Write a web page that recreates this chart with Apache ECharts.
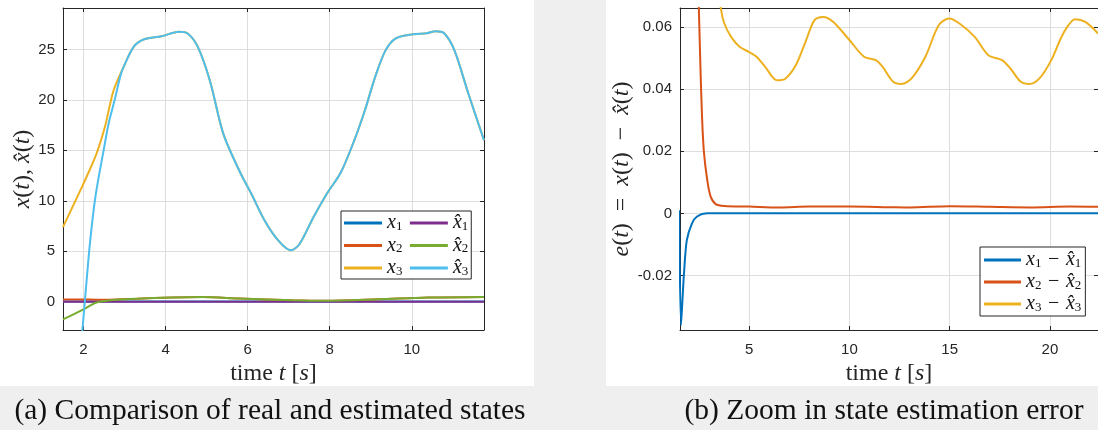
<!DOCTYPE html>
<html>
<head>
<meta charset="utf-8">
<title>state estimation</title>
<script src="https://cdn.jsdelivr.net/npm/echarts@6/dist/echarts.min.js"></script>
<style>
  html, body { margin: 0; padding: 0; background: #fff; }
  #main { width: 1098px; height: 430px; }
</style>
</head>
<body>
<div id="main"></div>
<script>
// (a) real and estimated states, time in s
var tX1 = [1.5, 11.76];
var valX1 = [0.03, 0.03];
var tXh1 = [1.5, 11.76];
var valXh1 = [0, 0];
var tX2 = [1.5, 2.0, 2.3, 2.6, 3.3, 4.15, 4.9, 5.8, 7.1, 7.9, 9.2, 10.4, 11.76];
var valX2 = [0.22, 0.22, 0.2, 0.2, 0.3, 0.42, 0.46, 0.32, 0.15, 0.1, 0.25, 0.42, 0.48];
var tXh2 = [1.5, 2.0, 2.3, 2.6, 3.3, 4.15, 4.9, 5.8, 7.1, 7.9, 9.2, 10.4, 11.76];
var valXh2 = [-1.75, -0.75, -0.1, 0.13, 0.3, 0.42, 0.46, 0.32, 0.15, 0.1, 0.25, 0.42, 0.48];
var tX3 = [1.5, 2.01, 2.31, 2.52, 2.73, 2.98, 3.23, 3.48, 3.9, 4.32, 4.53, 4.78, 5.08, 5.41, 5.83, 6.09, 6.42, 6.76, 7.05, 7.26, 7.6, 7.93, 8.27, 8.6, 8.86, 9.11, 9.36, 9.61, 10.03, 10.37, 10.58, 10.79, 11.04, 11.38, 11.76];
var valX3 = [7.4, 11.8, 14.6, 17.3, 20.9, 23.3, 25.3, 26.0, 26.3, 26.75, 26.6, 25.3, 21.9, 16.6, 12.7, 10.7, 8.0, 6.0, 5.1, 5.7, 8.35, 10.7, 12.8, 16.0, 19.0, 22.3, 24.9, 26.1, 26.5, 26.6, 26.8, 26.6, 24.9, 20.6, 16.0];
var tXh3 = [1.5, 1.75, 1.97, 2.15, 2.29, 2.49, 2.62, 2.76, 2.9, 2.98, 3.23, 3.48, 3.9, 4.32, 4.53, 4.78, 5.08, 5.41, 5.83, 6.09, 6.42, 6.76, 7.05, 7.26, 7.6, 7.93, 8.27, 8.6, 8.86, 9.11, 9.36, 9.61, 10.03, 10.37, 10.58, 10.79, 11.04, 11.38, 11.76];
var valXh3 = [-22, -12, -2.9, 5.5, 10.4, 15.0, 17.8, 20.0, 22.4, 23.3, 25.3, 26.0, 26.3, 26.75, 26.6, 25.3, 21.9, 16.6, 12.7, 10.7, 8.0, 6.0, 5.1, 5.7, 8.35, 10.7, 12.8, 16.0, 19.0, 22.3, 24.9, 26.1, 26.5, 26.6, 26.8, 26.6, 24.9, 20.6, 16.0];

// (b) estimation error
var tE1 = [1.5, 1.6, 1.68, 1.75, 1.89, 2.15, 2.4, 2.9, 6, 12, 18, 22.4];
var valE1 = [0.001, -0.036, -0.027, -0.0193, -0.0086, -0.0032, -0.001, 0, 0, 0, 0, 0];
var tE2 = [2.3, 2.4, 2.49, 2.57, 2.65, 2.74, 2.91, 3.08, 3.33, 3.76, 5, 6.5, 8, 10, 12, 13, 15, 17, 19, 21, 22.4];
var valE2 = [0.11, 0.085, 0.066, 0.047, 0.031, 0.02, 0.0107, 0.0054, 0.003, 0.0024, 0.0022, 0.0019, 0.0022, 0.0022, 0.002, 0.0019, 0.0023, 0.0021, 0.0019, 0.0022, 0.0021];
var tE3 = [2.6, 3.0, 3.3, 3.59, 3.76, 4.1, 4.52, 5.0, 5.37, 5.8, 6.39, 6.82, 7.33, 7.84, 8.26, 8.69, 9.2, 10.01, 10.73, 11.32, 11.66, 12.18, 12.6, 13.1, 13.79, 14.46, 14.98, 15.49, 16.25, 16.93, 17.61, 18.03, 18.55, 18.97, 19.48, 20.07, 20.67, 21.26, 21.77, 22.4];
var valE3 = [0.2, 0.11, 0.082, 0.066, 0.0612, 0.0569, 0.0537, 0.052, 0.0505, 0.0472, 0.0429, 0.0435, 0.0478, 0.0558, 0.0623, 0.0633, 0.0617, 0.0558, 0.0505, 0.0494, 0.0472, 0.0424, 0.0417, 0.0435, 0.0505, 0.0607, 0.0628, 0.0612, 0.0569, 0.051, 0.0494, 0.0467, 0.0424, 0.0417, 0.0435, 0.0494, 0.058, 0.0626, 0.0617, 0.058];

var namesA = ['x1', 'x2', 'x3', 'xh1', 'xh2', 'xh3'];
var labelsA = {
  x1: '{i|x}{c|1}', x2: '{i|x}{c|2}', x3: '{i|x}{c|3}',
  xh1: '{i|x\u0302}{s|1}', xh2: '{i|x\u0302}{s|2}', xh3: '{i|x\u0302}{s|3}'
};
var namesB = ['e1', 'e2', 'e3'];
var labelsB = {
  e1: '{i|x}{s|1}{n|\u2004\u2212\u2004}{i|x\u0302}{s|1}',
  e2: '{i|x}{s|2}{n|\u2004\u2212\u2004}{i|x\u0302}{s|2}',
  e3: '{i|x}{s|3}{n|\u2004\u2212\u2004}{i|x\u0302}{s|3}'
};
var colors = ['#0072BD', '#D95319', '#EDB120', '#7E2F8E', '#77AC30', '#4DBEEE'];

var axisColor = '#262626';
var gridColor = '#dedede';
var serif = '"Liberation Serif", "DejaVu Serif", serif';
var sans = '"Liberation Sans", Arial, sans-serif';
var mathRich = {
  i: { fontFamily: serif, fontStyle: 'italic', fontSize: 24, color: axisColor }
};
var legendRich = {
  i: { fontFamily: serif, fontStyle: 'italic', fontSize: 20, lineHeight: 18, color: '#111' },
  n: { fontFamily: serif, fontSize: 20, lineHeight: 18, color: '#111' },
  s: { fontFamily: serif, fontSize: 13, lineHeight: 11, color: '#111', padding: [7, 0, 0, 0] },
  c: { fontFamily: serif, fontSize: 13, lineHeight: 11, color: '#111', padding: [7, 5, 0, 0] }
};

function zip(ts, vs) {
  return ts.map(function (t, k) { return [t, vs[k]]; });
}

// main axis with labels / box axis without labels (matlab "box on")
function mainAxis(gridIndex, min, max, split, pos, name, gap, margin) {
  return {
    type: 'value', gridIndex: gridIndex, position: pos, min: min, max: max, splitNumber: split,
    name: name, nameLocation: 'middle', nameGap: gap,
    nameTextStyle: { fontFamily: serif, fontSize: 24, color: axisColor, rich: mathRich },
    axisLine: { show: true, onZero: false, lineStyle: { color: axisColor, width: 1 } },
    axisTick: { show: true, inside: true, length: 4, lineStyle: { color: axisColor } },
    splitLine: { show: true, lineStyle: { color: gridColor, width: 1 } },
    axisLabel: { show: true, showMinLabel: false, showMaxLabel: false, color: axisColor,
      fontFamily: sans, fontSize: 15, margin: margin }
  };
}
function boxAxis(gridIndex, min, max, split, pos) {
  return {
    type: 'value', gridIndex: gridIndex, position: pos, min: min, max: max, splitNumber: split,
    axisLine: { show: true, onZero: false, lineStyle: { color: axisColor, width: 1 } },
    axisTick: { show: true, inside: true, length: 4, lineStyle: { color: axisColor } },
    splitLine: { show: false },
    axisLabel: { show: false }
  };
}

function lineSeries(name, data, color, xi, yi) {
  return {
    name: name, type: 'line', data: data, xAxisIndex: xi, yAxisIndex: yi,
    showSymbol: false, symbol: 'none', smooth: 0.3, clip: true,
    lineStyle: { color: color, width: 2 }, itemStyle: { color: color },
    emphasis: { disabled: true }
  };
}

var chart = echarts.init(document.getElementById('main'));

var option = {
  backgroundColor: '#efefef',
  animation: false,
  grid: [
    { left: 63, top: 8, width: 421, height: 322 },
    { left: 680, top: 8, width: 420, height: 322 }
  ],
  xAxis: [
    mainAxis(0, 1.5, 11.76, 5, 'bottom', 'time {i|t} [{i|s}]', 27, 12),
    boxAxis(0, 1.5, 11.76, 5, 'top'),
    mainAxis(1, 1.55, 22.4, 4, 'bottom', 'time {i|t} [{i|s}]', 27, 12),
    boxAxis(1, 1.55, 22.4, 4, 'top')
  ],
  yAxis: [
    mainAxis(0, -2.8, 29.1, 6, 'left', '{i|x}({i|t}), {i|x\u0302}({i|t})', 24, 8),
    boxAxis(0, -2.8, 29.1, 6, 'right'),
    mainAxis(1, -0.0376, 0.0662, 5, 'left',
      '{i|e}({i|t})\u2002=\u2002{i|x}({i|t})\u2002\u2212\u2002{i|x\u0302}({i|t})', 42, 8),
    boxAxis(1, -0.0376, 0.0662, 5, 'right')
  ],
  legend: [
    {
      data: namesA, orient: 'vertical', left: 341, top: 211, height: 66,
      padding: [2, 3, 1, 3], itemGap: 2.5, itemWidth: 38, itemHeight: 3, icon: 'rect',
      backgroundColor: '#fff', borderColor: axisColor, borderWidth: 1, borderRadius: 0,
      selectedMode: false,
      formatter: function (n) { return labelsA[n]; },
      textStyle: { lineHeight: 18, rich: legendRich }
    },
    {
      data: namesB, orient: 'vertical', left: 980, top: 247,
      padding: [3, 4, 2, 4], itemGap: 2, itemWidth: 37, itemHeight: 3, icon: 'rect',
      backgroundColor: '#fff', borderColor: axisColor, borderWidth: 1, borderRadius: 0,
      selectedMode: false,
      formatter: function (n) { return labelsB[n]; },
      textStyle: { lineHeight: 18, rich: legendRich }
    }
  ],
  graphic: [
    { type: 'rect', z: -10, shape: { x: 0, y: 0, width: 534, height: 386 }, style: { fill: '#fff' } },
    { type: 'rect', z: -10, shape: { x: 606, y: 0, width: 492, height: 386 }, style: { fill: '#fff' } },
    { type: 'text', z: 10, x: 270, y: 411,
      style: { text: '(a) Comparison of real and estimated states', font: '29.5px ' + serif,
        fill: '#111', textAlign: 'center', textVerticalAlign: 'middle' } },
    { type: 'text', z: 10, x: 884, y: 411,
      style: { text: '(b) Zoom in state estimation error', font: '29.5px ' + serif,
        fill: '#111', textAlign: 'center', textVerticalAlign: 'middle' } }
  ],
  series: [
    lineSeries('x1', zip(tX1, valX1), colors[0], 0, 0),
    lineSeries('x2', zip(tX2, valX2), colors[1], 0, 0),
    lineSeries('x3', zip(tX3, valX3), colors[2], 0, 0),
    lineSeries('xh1', zip(tXh1, valXh1), colors[3], 0, 0),
    lineSeries('xh2', zip(tXh2, valXh2), colors[4], 0, 0),
    lineSeries('xh3', zip(tXh3, valXh3), colors[5], 0, 0),
    lineSeries('e1', zip(tE1, valE1), colors[0], 2, 2),
    lineSeries('e2', zip(tE2, valE2), colors[1], 2, 2),
    lineSeries('e3', zip(tE3, valE3), colors[2], 2, 2)
  ]
};
chart.setOption(option);
</script>
</body>
</html>
